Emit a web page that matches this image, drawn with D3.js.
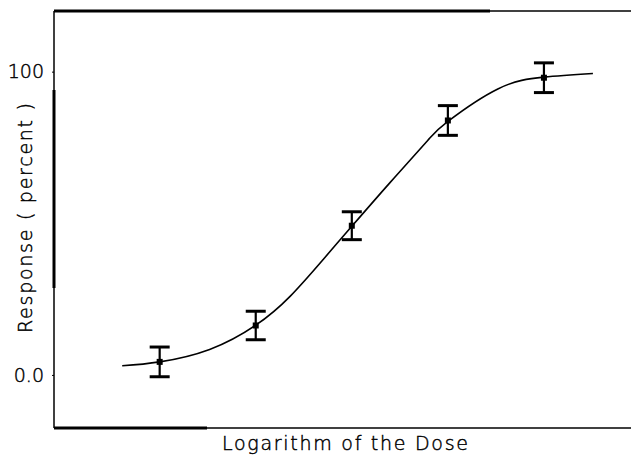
<!DOCTYPE html>
<html lang="en">
<head>
  <meta charset="UTF-8" />
  <title>dose response</title>
  <style>
    * { margin:0; padding:0; box-sizing:border-box; }
    body { background:#fff; overflow:hidden; width:631px; height:457px; }
    svg { display:block; }
    text { font-family:'DejaVu Sans',sans-serif; font-weight:200; fill:#000; stroke:#000; stroke-width:0.45; }
  </style>
</head>
<body>
<script src="https://d3js.org/d3.v7.min.js"></script>
<script>
  // observed doses (log scale) and mean response with error
  const doses = [1, 2, 3, 4, 5];
  const response = [4.3, 16.3, 49.2, 83.9, 98.0];
  const errors = [4.9, 4.7, 4.6, 4.9, 4.9];
  // fitted curve
  const fitX = [0.61, 1.0, 1.52, 2.0, 2.36, 2.70, 3.0, 3.40, 3.79, 4.0, 4.52, 5.0, 5.51];
  const fitY = [3.0, 4.3, 8.4, 16.4, 26.0, 38.0, 49.0, 63.5, 77.3, 83.6, 94.3, 98.2, 99.4];
  const yTicks = [0, 100];
  const yTickLabels = ['0.0', '100'];

  const W = 631, H = 457;
  const m = { left:54, top:11, right:640, bottom:428 };
  const svg = d3.select('body').append('svg').attr('width', W).attr('height', H);

  const x = d3.scaleLinear().domain([-0.1, 6.0]).range([m.left, m.right]);
  const y = d3.scaleLinear().domain([-17.5, 120]).range([m.bottom, m.top]);

  // frame (right side runs off the page)
  const frame = svg.append('g').attr('stroke', '#000').attr('fill', 'none');
  frame.append('line').attr('x1', m.left).attr('x2', m.left).attr('y1', m.top).attr('y2', m.bottom).attr('stroke-width', 1.5);
  frame.append('line').attr('x1', m.left).attr('x2', W).attr('y1', m.top).attr('y2', m.top).attr('stroke-width', 1.5);
  frame.append('line').attr('x1', m.left).attr('x2', W).attr('y1', m.bottom).attr('y2', m.bottom).attr('stroke-width', 1.5);
  // heavier stretches of the scanned frame
  frame.append('line').attr('x1', m.left).attr('x2', m.left).attr('y1', 90).attr('y2', 288).attr('stroke-width', 3);
  frame.append('line').attr('x1', m.left).attr('x2', 490).attr('y1', m.top).attr('y2', m.top).attr('stroke-width', 3);
  frame.append('line').attr('x1', m.left).attr('x2', 207).attr('y1', m.bottom).attr('y2', m.bottom).attr('stroke-width', 3);

  const yAxis = d3.axisLeft(y).tickValues(yTicks).tickSize(2).tickPadding(8)
    .tickFormat((d, i) => yTickLabels[i]);
  const ga = svg.append('g').attr('transform', `translate(${m.left},0)`).call(yAxis);
  ga.select('.domain').remove();
  ga.selectAll('text').attr('font-size', 19).style('font-family', "'DejaVu Sans',sans-serif")
    .style('font-weight', 200).attr('fill', '#000');
  ga.selectAll('line').attr('stroke', '#000');

  // fitted curve
  const pts = fitX.map((v, i) => [v, fitY[i]]);
  svg.append('path').datum(pts)
    .attr('fill', 'none').attr('stroke', '#000').attr('stroke-width', 1.6)
    .attr('d', d3.line().x(d => x(d[0])).y(d => y(d[1])).curve(d3.curveNatural));

  // error bars
  const obs = doses.map((d, i) => ({ d, r: response[i], e: errors[i] }));
  const eb = svg.append('g').attr('stroke', '#000');
  eb.selectAll('.v').data(obs).join('line')
    .attr('x1', o => x(o.d)).attr('x2', o => x(o.d))
    .attr('y1', o => y(o.r + o.e)).attr('y2', o => y(o.r - o.e)).attr('stroke-width', 2.2);
  [1, -1].forEach(s => {
    eb.append('g').selectAll('line').data(obs).join('line')
      .attr('x1', o => x(o.d) - 10).attr('x2', o => x(o.d) + 10)
      .attr('y1', o => y(o.r + s * o.e)).attr('y2', o => y(o.r + s * o.e)).attr('stroke-width', 3);
  });
  svg.append('g').selectAll('rect').data(obs).join('rect')
    .attr('x', o => x(o.d) - 3).attr('y', o => y(o.r) - 3)
    .attr('width', 6).attr('height', 6).attr('fill', '#000');

  // axis titles
  svg.append('text').attr('x', 345).attr('y', 450).attr('text-anchor', 'middle')
    .attr('font-size', 19).attr('textLength', 246).attr('lengthAdjust', 'spacing')
    .text('Logarithm of the Dose');
  svg.append('text').attr('transform', 'translate(32,218) rotate(-90)').attr('text-anchor', 'middle')
    .attr('font-size', 19).attr('textLength', 230).attr('lengthAdjust', 'spacing')
    .text('Response ( percent )');
</script>
</body>
</html>
